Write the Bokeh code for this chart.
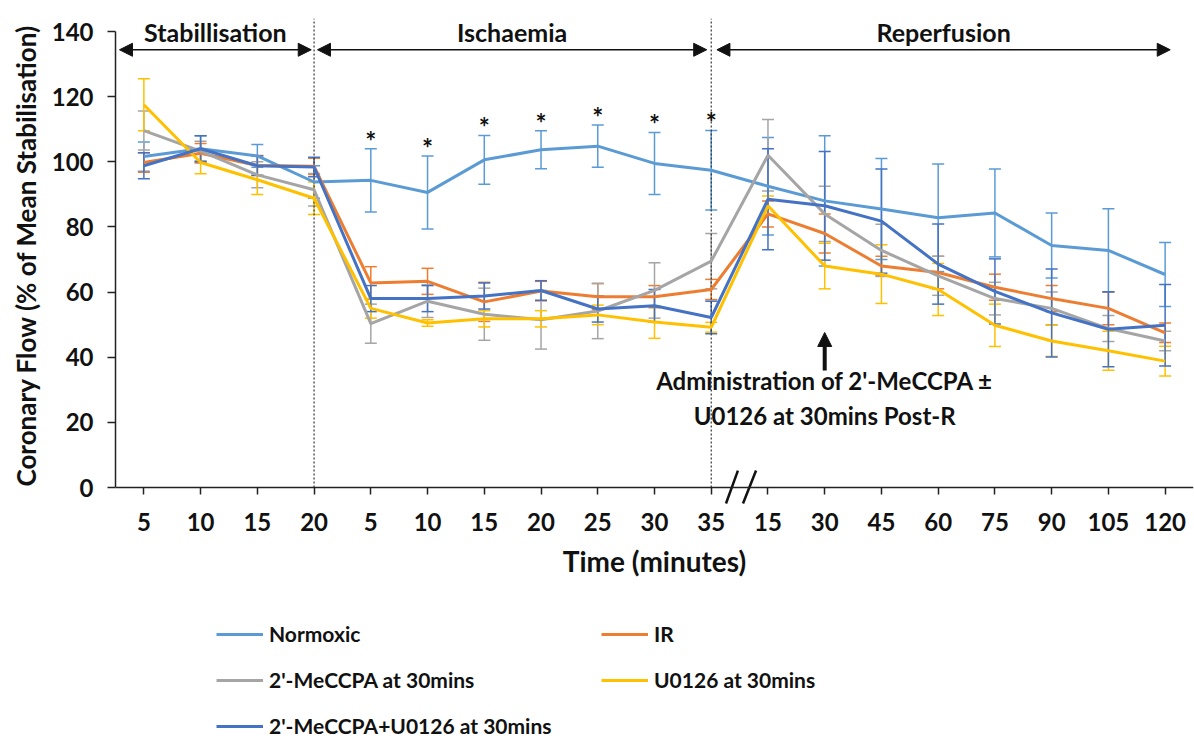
from bokeh.plotting import figure
from bokeh.models import (Range1d, FixedTicker, Whisker, TeeHead, ColumnDataSource,
                          Arrow, NormalHead, Label, Legend, LegendItem, Title)
from bokeh.core.properties import value
from bokeh.embed import file_html
from bokeh.resources import INLINE

# ---------------- data ----------------
tick_labels = ["5", "10", "15", "20", "5", "10", "15", "20", "25", "30", "35",
               "15", "30", "45", "60", "75", "90", "105", "120"]

series_names = ["Normoxic", "IR", "2'-MeCCPA at 30mins", "U0126 at 30mins",
                "2'-MeCCPA+U0126 at 30mins"]
series_colors = ["#5B9BD5", "#ED7D31", "#A5A5A5", "#FFC000", "#4472C4"]

normoxic = [101.6, 104.0, 101.8, 93.8, 94.3, 90.6, 100.6, 103.7, 104.8, 99.5, 97.4,
            92.5, 88.0, 85.5, 82.8, 84.3, 74.3, 72.8, 65.4]
normoxic_err = [4.5, 4.0, 3.5, 5.0, 9.7, 11.2, 7.5, 5.8, 6.5, 9.5, 12.2,
                15.0, 20.0, 15.5, 16.5, 13.5, 10.0, 12.8, 9.8]

ir = [99.8, 102.6, 98.9, 98.6, 62.8, 63.3, 57.0, 60.3, 58.6, 58.6, 60.8,
      84.0, 78.0, 68.0, 66.0, 61.5, 58.0, 55.0, 47.5]
ir_err = [3, 3, 3, 2.5, 5, 4, 6, 3, 4, 3.4, 3.1, 4, 6, 3, 5, 4, 4, 5, 3]

mecpa = [109.6, 103.3, 96.0, 91.4, 50.3, 57.2, 53.2, 51.5, 54.2, 60.5, 69.5,
         102.0, 84.0, 72.8, 65.0, 58.0, 55.0, 48.8, 45.0]
mecpa_err = [6, 3, 4, 5, 6, 5, 8, 9, 8.5, 8.5, 8.5, 11, 8.5, 8, 6, 5, 5, 4, 3]

u0126 = [117.5, 99.8, 94.5, 88.8, 55.0, 50.5, 51.8, 51.8, 53.0, 50.8, 49.2,
         86.5, 68.0, 65.5, 60.8, 49.8, 45.0, 42.0, 38.8]
u0126_err = [8, 3.5, 4.5, 5, 3, 1, 2.5, 2.5, 3, 5, 1.5, 3, 7, 9, 8, 6.5, 4.8, 6, 4.6]

combo = [98.8, 104.0, 98.8, 98.4, 58.0, 58.0, 58.8, 60.5, 54.8, 55.8, 52.2,
         88.5, 86.5, 81.8, 68.6, 60.2, 53.6, 48.6, 49.8]
combo_err = [4, 4, 3, 3, 4, 4, 4, 3, 4, 5, 5, 15.5, 16.7, 16, 12.3, 10, 13.5, 11.5, 12.5]

significant = [4, 5, 6, 7, 8, 9, 10]   # indices with asterisk

phase_labels = ["Stabillisation", "Ischaemia", "Reperfusion"]
phase_starts = [-0.43, 3.06, 10.10]
phase_ends = [2.95, 9.92, 18.09]
phase_bounds = [3, 10]

FONT = "Lato"
INK = "#111111"

x = list(range(len(tick_labels)))

p = figure(width=1194, height=740, output_backend="svg", toolbar_location=None,
           x_range=Range1d(-0.5, len(tick_labels) - 0.5), y_range=Range1d(-77.68, 144),
           min_border_left=114, min_border_right=1, min_border_top=18, min_border_bottom=0)
p.xgrid.visible = False
p.ygrid.visible = False
p.outline_line_color = None

# axes
p.yaxis.ticker = FixedTicker(ticks=[0, 20, 40, 60, 80, 100, 120, 140])
p.yaxis.bounds = (0, 140)
p.xaxis.ticker = FixedTicker(ticks=x)
p.xaxis.major_label_overrides = {i: t for i, t in enumerate(tick_labels)}
p.xaxis.fixed_location = 0
for ax in (p.xaxis[0], p.yaxis[0]):
    ax.axis_line_color = "#222222"
    ax.axis_line_width = 1.5
    ax.major_tick_line_color = "#222222"
    ax.major_tick_line_width = 1.5
    ax.major_tick_in = 0
    ax.minor_tick_line_color = None
    ax.major_label_text_font = FONT
    ax.major_label_text_font_style = "bold"
    ax.major_label_text_font_size = "24px"
    ax.major_label_text_color = INK
    ax.axis_label_text_font = FONT
    ax.axis_label_text_font_style = "bold"
    ax.axis_label_text_color = INK
p.xaxis.axis_label_text_font_size = "28px"
p.yaxis.major_tick_out = 8
p.yaxis.major_label_standoff = 14
p.xaxis.major_tick_out = 7
p.xaxis.major_label_standoff = 18
p.xaxis.axis_label = "Time (minutes)"
p.xaxis.axis_label_standoff = 10

# y-axis title as a left-side title, shifted to sit along the 0-140 axis
p.add_layout(Title(text="Coronary Flow (% of Mean Stabilisation)", align="left", offset=254,
                   text_font=FONT, text_font_style="bold", text_font_size="26px",
                   text_color=INK, standoff=14), "left")

# phase separators (dotted)
p.segment(x0=phase_bounds, y0=[0, 0], x1=phase_bounds, y1=[144, 144],
          line_color="#333333", line_width=1.2, line_dash="2 2")

# series
all_vals = [normoxic, ir, mecpa, u0126, combo]
all_errs = [normoxic_err, ir_err, mecpa_err, u0126_err, combo_err]
renderers = []
for name, col, vals, errs in zip(series_names, series_colors, all_vals, all_errs):
    src = ColumnDataSource(dict(x=x, y=vals,
                                upper=[v + e for v, e in zip(vals, errs)],
                                lower=[v - e for v, e in zip(vals, errs)]))
    w = Whisker(source=src, base="x", upper="upper", lower="lower", dimension="height",
                line_color=col, line_width=1.5,
                upper_head=TeeHead(size=12, line_color=col, line_width=1.5),
                lower_head=TeeHead(size=12, line_color=col, line_width=1.5))
    p.add_layout(w)
    r = p.line("x", "y", source=src, line_color=col, line_width=3)
    renderers.append(r)

# asterisks
ast_src = ColumnDataSource(dict(x=significant,
                                y=[normoxic[i] + normoxic_err[i] + 2.5 for i in significant]))
p.text("x", "y", source=ast_src, text=value("*"), text_align="center", text_baseline="middle",
       text_font=value(FONT), text_font_style="bold", text_font_size="26px", text_color=INK)

# phase arrows and labels
for lab, xs, xe in zip(phase_labels, phase_starts, phase_ends):
    p.add_layout(Arrow(x_start=xs, y_start=134.4, x_end=xe, y_end=134.4,
                       line_color=INK, line_width=1.5,
                       start=NormalHead(size=13, fill_color=INK, line_color=INK),
                       end=NormalHead(size=13, fill_color=INK, line_color=INK)))
    p.add_layout(Label(x=(xs + xe) / 2, y=139.8, text=lab, text_align="center",
                       text_baseline="middle", text_font=FONT, text_font_style="bold",
                       text_font_size="25px", text_color=INK))

# axis break marks
p.segment(x0=[10.26, 10.56], y0=[-4.9, -4.9], x1=[10.47, 10.79], y1=[5.2, 5.2],
          line_color=INK, line_width=2.5)

# administration annotation
p.add_layout(Arrow(x_start=12.0, y_start=35.9, x_end=12.0, y_end=47.6, line_color=INK,
                   line_width=4, end=NormalHead(size=14, fill_color=INK, line_color=INK)))
p.add_layout(Label(x=12.0, y=32.8, text="Administration of 2'-MeCCPA \u00b1",
                   text_align="center", text_baseline="middle", text_font=FONT,
                   text_font_style="bold", text_font_size="24px", text_color=INK))
p.add_layout(Label(x=12.0, y=22.1, text="U0126 at 30mins Post-R",
                   text_align="center", text_baseline="middle", text_font=FONT,
                   text_font_style="bold", text_font_size="24px", text_color=INK))

# legend (three rows, two columns)
rows = [[0, 1], [2, 3], [4]]
row_y = [94, 48, 2]
for items, ly in zip(rows, row_y):
    leg = Legend(items=[LegendItem(label=series_names[i], renderers=[renderers[i]]) for i in items],
                 orientation="horizontal", location=(101, ly),
                 glyph_width=47, glyph_height=20, label_height=20, label_standoff=6,
                 label_width=332, spacing=0, padding=0, margin=0,
                 border_line_color=None, background_fill_alpha=0,
                 label_text_font=FONT, label_text_font_style="bold",
                 label_text_font_size="21px", label_text_color=INK)
    p.add_layout(leg)

open("out.html", "w").write(file_html(p, INLINE))
